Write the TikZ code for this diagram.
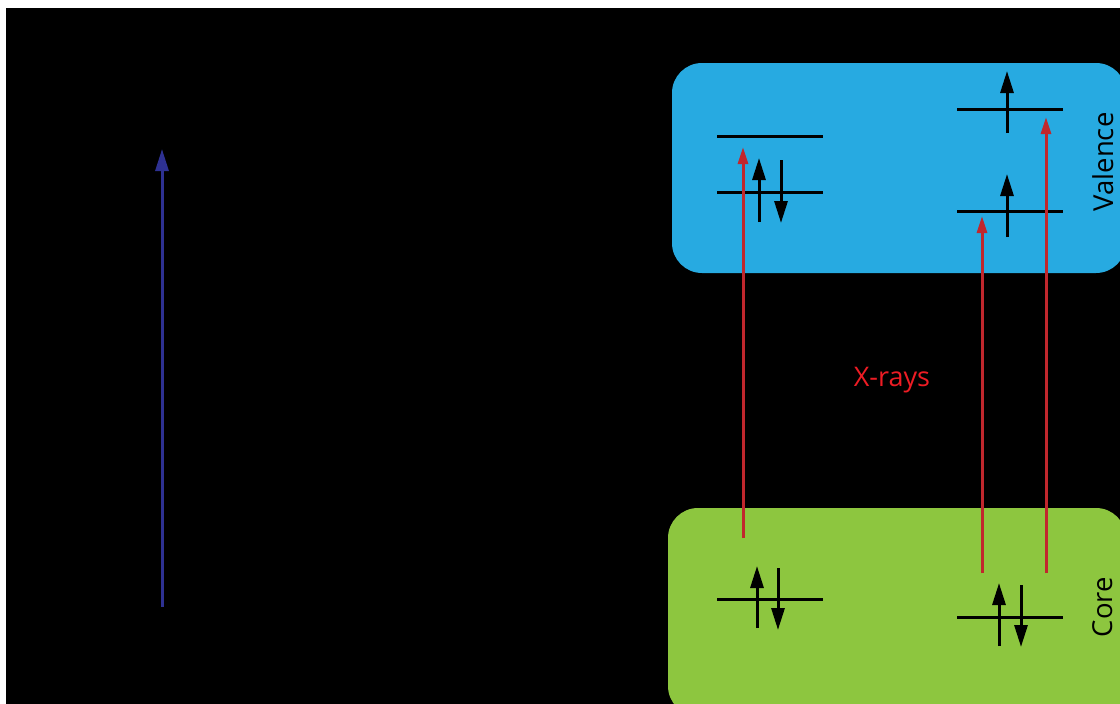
\documentclass[tikz,border=0pt]{standalone}
\usepackage{fontspec}
\setmainfont{Open Sans}
\usetikzlibrary{arrows.meta}
\definecolor{valblue}{HTML}{27AAE1}
\definecolor{coregreen}{HTML}{8DC63F}
\definecolor{xred}{HTML}{C1272D}
\definecolor{xtext}{HTML}{ED1C24}
\definecolor{axisblue}{HTML}{2E3192}
\tikzset{
  band/.style={rounded corners=30pt, inner sep=0pt},
  level/.style={line width=3pt},
  spin/.style={line width=3pt, -{Triangle[width=13pt,length=22pt]}},
  xray/.style={xred, line width=3pt, -{Triangle[width=10pt,length=17pt]}},
  energy/.style={axisblue, line width=3pt, -{Triangle[width=13pt,length=22pt]}},
  bandlabel/.style={font=\fontsize{27.5}{30}\selectfont, rotate=90, inner sep=0pt}
}
\begin{document}
\begin{tikzpicture}[x=1pt,y=-1pt]
  % canvas
  \useasboundingbox (0,0) rectangle (1120,704);
  \clip (0,0) rectangle (1120,704);
  \fill[white] (0,0) rectangle (1120,704);
  \fill[black] (6,8) rectangle (1120,704);

  % energy axis
  \coordinate (eLow) at (162,607);
  \coordinate (eHigh) at (162,149);
  \draw[energy] (eLow) -- (eHigh);

  % bands
  \fill[valblue, band] (672,63) rectangle (1126,273);
  \fill[coregreen, band] (668,508) rectangle (1126,716);
  \node[bandlabel] (val) at (1103,162) {Valence};
  \node[bandlabel] (core) at (1103,607) {Core};

  % valence levels, left atom
  \coordinate (vLa1) at (717,136); \coordinate (vLa2) at (823,136);
  \coordinate (vLb1) at (717,192); \coordinate (vLb2) at (823,192);
  \draw[level] (vLa1) -- (vLa2);
  \draw[level] (vLb1) -- (vLb2);
  \coordinate (sLu0) at (759,222); \coordinate (sLu1) at (759,158);
  \coordinate (sLd0) at (781,160); \coordinate (sLd1) at (781,223);
  \draw[spin] (sLu0) -- (sLu1);
  \draw[spin] (sLd0) -- (sLd1);

  % valence levels, right atom
  \coordinate (vRa1) at (957,109); \coordinate (vRa2) at (1063,109);
  \coordinate (vRb1) at (957,211); \coordinate (vRb2) at (1063,211);
  \draw[level] (vRa1) -- (vRa2);
  \draw[level] (vRb1) -- (vRb2);
  \coordinate (sRa0) at (1007,133); \coordinate (sRa1) at (1007,71);
  \coordinate (sRb0) at (1007,237); \coordinate (sRb1) at (1007,174);
  \draw[spin] (sRa0) -- (sRa1);
  \draw[spin] (sRb0) -- (sRb1);

  % core levels
  \coordinate (cL1) at (717,599); \coordinate (cL2) at (823,599);
  \draw[level] (cL1) -- (cL2);
  \coordinate (cLu0) at (757,628); \coordinate (cLu1) at (757,566);
  \coordinate (cLd0) at (778,568); \coordinate (cLd1) at (778,630);
  \draw[spin] (cLu0) -- (cLu1);
  \draw[spin] (cLd0) -- (cLd1);

  \coordinate (cR1) at (957,617); \coordinate (cR2) at (1063,617);
  \draw[level] (cR1) -- (cR2);
  \coordinate (cRu0) at (999,646); \coordinate (cRu1) at (999,583);
  \coordinate (cRd0) at (1021,585); \coordinate (cRd1) at (1021,647);
  \draw[spin] (cRu0) -- (cRu1);
  \draw[spin] (cRd0) -- (cRd1);

  % x-ray excitations
  \coordinate (xA0) at (743,538); \coordinate (xA1) at (743,147);
  \coordinate (xB0) at (982,573); \coordinate (xB1) at (982,216);
  \coordinate (xC0) at (1046,573); \coordinate (xC1) at (1046,117);
  \draw[xray] (xA0) -- (xA1);
  \draw[xray] (xB0) -- (xB1);
  \draw[xray] (xC0) -- (xC1);
  \node[xtext, font=\fontsize{27}{30}\selectfont, inner sep=0pt] (xr) at (892,380) {X-rays};
\end{tikzpicture}
\end{document}
